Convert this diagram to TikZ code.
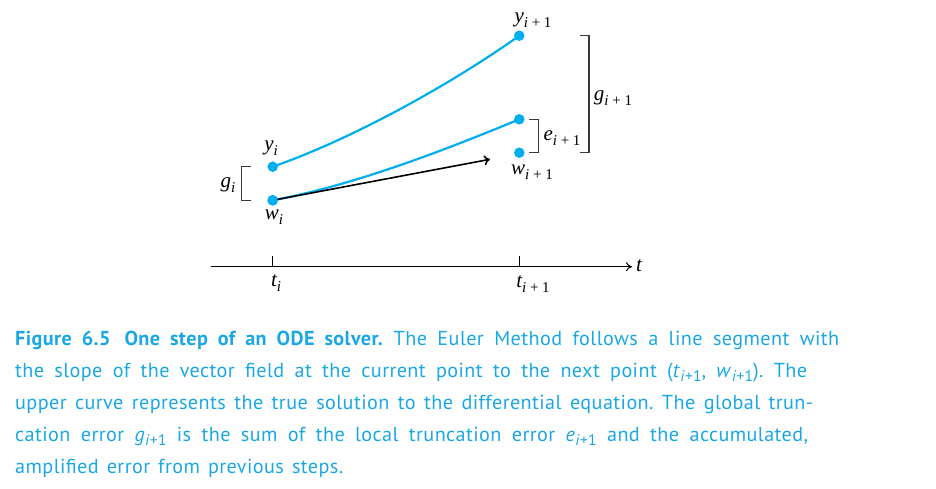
\documentclass[tikz,border=0pt]{standalone}
\usepackage{fontspec}
\setmainfont{PT Sans}[LetterSpace=2]
\newfontfamily\labfont{Liberation Serif}
\usetikzlibrary{arrows.meta}
\definecolor{cyanline}{HTML}{00AEEF}
\definecolor{captc}{HTML}{1BA8E2}
\definecolor{brk}{HTML}{3A3A3A}
\newcommand{\lsym}[2]{{\labfont\itshape #1}\raisebox{-4.5pt}{\fontsize{15}{15}\selectfont\labfont #2}}
\newcommand{\csym}[2]{\textit{#1}\raisebox{-4pt}{\fontsize{15.5}{16}\selectfont\textit{#2}}}
\newcommand{\cplus}{\raisebox{-4pt}{\fontsize{15.5}{16}\selectfont +1}}
\frenchspacing
\begin{document}
\begin{tikzpicture}[x=1pt,y=-1pt,
  dot/.style={circle,fill=cyanline,inner sep=0pt,minimum size=10.5pt},
  curve/.style={cyanline,line width=2.2pt},
  bracket/.style={brk,line width=1.2pt},
  lab/.style={inner sep=0pt,font=\fontsize{21}{23}\selectfont},
  capline/.style={anchor=base west,inner sep=0pt,text=captc,font=\fontsize{20.2}{24}\selectfont}]
\useasboundingbox (0,0) rectangle (936,488);
% axis
\coordinate (axL) at (211,266.7);
\coordinate (axR) at (632,266.7);
\draw[line width=1pt,-{To[length=6pt,width=9pt]}] (axL) -- (axR);
\node[lab,anchor=west] (tlab) at (636,266) {{\labfont\itshape t}};
\coordinate (tk1t) at (272.7,256);
\coordinate (tk1b) at (272.7,266.7);
\coordinate (tk2t) at (519.3,256);
\coordinate (tk2b) at (519.3,266.7);
\draw[line width=1pt] (tk1t) -- (tk1b);
\draw[line width=1pt] (tk2t) -- (tk2b);
\node[lab] (ti) at (276,283) {\lsym{t}{\itshape i}};
\node[lab] (tn) at (533,284) {\lsym{t}{{\itshape i} + 1}};
% points
\node[dot] (yi) at (272.7,166.7) {};
\node[dot] (wi) at (272.7,200.3) {};
\node[dot] (yn) at (519.3,35.7) {};
\node[dot] (en) at (519.3,119.3) {};
\node[dot] (wn) at (519.3,152.7) {};
\coordinate (arrtip) at (490,159.3);
% curves
\draw[curve] (yi.center) .. controls (350,140) and (450,85) .. (yn.center);
\draw[curve] (wi.center) .. controls (355,185) and (445,150) .. (en.center);
\draw[line width=1.6pt,-{To[length=6pt,width=10pt]}] (wi.center) -- (arrtip);
\node[dot] at (wi) {};
% labels
\node[lab] (yil) at (271,148) {\lsym{y}{\itshape i}};
\node[lab] (wil) at (274,217) {\lsym{w}{\itshape i}};
\node[lab] (ynl) at (533,20) {\lsym{y}{{\itshape i} + 1}};
\node[lab] (wnl) at (532,172) {\lsym{w}{{\itshape i} + 1}};
% brackets
\draw[bracket] (250.7,166.7) -- (241.7,166.7) -- (241.7,200.3) -- (250.7,200.3);
\node[lab] (gil) at (228,185) {\lsym{g}{\itshape i}};
\draw[bracket] (529,119.3) -- (538.3,119.3) -- (538.3,152.7) -- (529,152.7);
\node[lab] (enl) at (562,138) {\lsym{e}{{\itshape i} + 1}};
\draw[bracket] (580,35.7) -- (589,35.7) -- (589,152.7) -- (580,152.7);
\node[lab] (gnl) at (613,98) {\lsym{g}{{\itshape i} + 1}};
% caption
\node[capline] (c1) at (15,345) {\makebox[824pt][s]{\textbf{Figure 6.5\hspace{4pt} One step of an ODE solver.} The Euler Method follows a line segment with}};
\node[capline] (c2) at (15,377) {\makebox[792pt][s]{the slope of the vector field at the current point to the next point (\csym{t}{i}\cplus, \csym{w}{i}\cplus). The}};
\node[capline] (c3) at (15,409) {\makebox[798pt][s]{upper curve represents the true solution to the differential equation. The global trun-}};
\node[capline] (c4) at (15,441) {\makebox[793pt][s]{cation error \csym{g}{i}\cplus\ is the sum of the local truncation error \csym{e}{i}\cplus\ and the accumulated,}};
\node[capline] (c5) at (15,473) {\makebox[328pt][s]{amplified error from previous steps.}};
\end{tikzpicture}
\end{document}
